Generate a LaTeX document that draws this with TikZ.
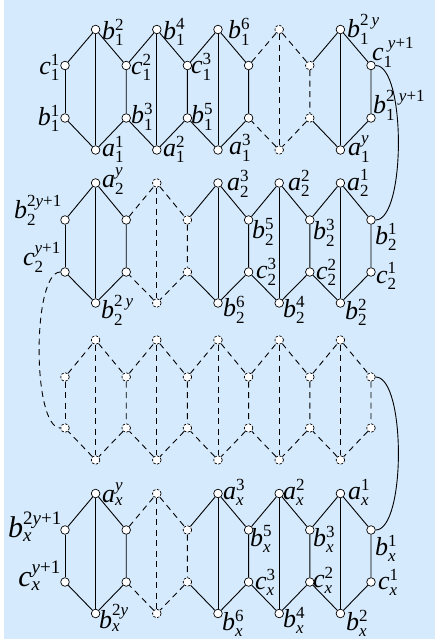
\documentclass[tikz,border=0pt]{standalone}
\usepackage{amsmath}
\usepackage{fontspec}
\setmainfont{Liberation Serif}
\newfontfamily\labfont{Liberation Serif}
\DeclareMathSizes{26}{26}{17}{12}
\DeclareMathSizes{30}{30}{19}{13}
\definecolor{bgblue}{RGB}{213,234,252}
\newcommand\lbl[3]{{\labfont\itshape #1}$_{\text{\labfont #2}}^{\text{\labfont #3}}$}
\newcommand\iy{{\itshape y}}
\newcommand\ix{{\itshape x}}
\tikzset{
  vtx/.style={circle, draw=black, fill=white, line width=0.7pt, inner sep=0pt, minimum size=8.6pt},
  dv/.style={dash pattern=on 2.5pt off 1.5pt},
  se/.style={line width=0.9pt, black},
  de/.style={line width=0.9pt, black, dash pattern=on 6pt off 4.5pt},
  lab/.style={inner sep=0pt, font=\fontsize{26}{26}\selectfont},
  labbig/.style={inner sep=0pt, font=\fontsize{30}{30}\selectfont},
  r1c7/.style=dv, r1c8/.style=dv,
  r2c3/.style=dv, r2c4/.style=dv,
  r4c3/.style=dv, r4c4/.style=dv,
  r3/.style=dv
}
\begin{document}
\begin{tikzpicture}[x=1pt,y=-1pt]
\fill[white] (0,0) rectangle (435,639);
\fill[bgblue] (4,0) rectangle (435,639);
\useasboundingbox (0,0) rectangle (435,639);
% vertices
\foreach \r/\yt/\yu/\yl/\yb in {1/29.5/65.5/118/150, 2/183/220/272/303, 3/340/377/428/460, 4/493.5/530/582/613.5}{
  \foreach \c in {1,3,...,9}{
    \node[vtx, r\r/.try, r\r c\c/.try] (r\r t\c) at ({65+30.6*\c},\yt) {};
    \node[vtx, r\r/.try, r\r c\c/.try] (r\r b\c) at ({65+30.6*\c},\yb) {};
  }
  \foreach \c in {0,2,...,10}{
    \node[vtx, r\r/.try, r\r c\c/.try] (r\r u\c) at ({65+30.6*\c},\yu) {};
    \node[vtx, r\r/.try, r\r c\c/.try] (r\r l\c) at ({65+30.6*\c},\yl) {};
  }
}
% edges
\foreach \r/\ha/\hb/\hc/\hd/\he in {1/se/se/se/de/se, 2/se/de/se/se/se, 3/de/de/de/de/de, 4/se/de/se/se/se}{
  \draw[\ha] (r\r u0) -- (r\r l0);
  \foreach \k/\st in {1/\ha, 2/\hb, 3/\hc, 4/\hd, 5/\he}{
    \pgfmathtruncatemacro\pa{2*\k-2}
    \pgfmathtruncatemacro\pm{2*\k-1}
    \pgfmathtruncatemacro\pc{2*\k}
    \draw[\st] (r\r u\pa) -- (r\r t\pm) -- (r\r u\pc) -- (r\r l\pc) -- (r\r b\pm) -- (r\r l\pa);
    \draw[\st] (r\r t\pm) -- (r\r b\pm);
  }
}
% connecting curves
\draw[se] (r1u10) .. controls +(35,0) and +(35,0) .. (r2u10);
\draw[de] (r2l0) .. controls +(-33,0) and +(-33,0) .. (r3l0);
\draw[se] (r3u10) .. controls +(35,0) and +(35,0) .. (r4u10);
% labels row 1
\node[lab, anchor=west] (L1) at (102,32) {\lbl{b}{1}{2}};
\node[lab, anchor=east] (L2) at (60,67) {\lbl{c}{1}{1}};
\node[lab, anchor=east] (L3) at (60,118) {\lbl{b}{1}{1}};
\node[lab, anchor=west] (L4) at (102,149) {\lbl{a}{1}{1}};
\node[lab, anchor=west] (L5) at (131,67) {\lbl{c}{1}{2}};
\node[lab, anchor=west] (L6) at (131,117) {\lbl{b}{1}{3}};
\node[lab, anchor=west] (L7) at (163,32) {\lbl{b}{1}{4}};
\node[lab, anchor=west] (L8) at (163,149) {\lbl{a}{1}{2}};
\node[lab, anchor=west] (L9) at (191,67) {\lbl{c}{1}{3}};
\node[lab, anchor=west] (L10) at (191,117) {\lbl{b}{1}{5}};
\node[lab, anchor=west] (L11) at (228,32) {\lbl{b}{1}{6}};
\node[lab, anchor=west] (L12) at (229,148) {\lbl{a}{1}{3}};
\node[lab, anchor=west] (L13) at (347,29) {\lbl{b}{1}{2\,\iy}};
\node[lab, anchor=west] (L14) at (372,52) {\lbl{c}{1}{\ \iy+1}};
\node[lab, anchor=west] (L15) at (373,105) {\lbl{b}{1}{2\ \iy+1}};
\node[lab, anchor=west] (L16) at (348,149) {\lbl{a}{1}{\iy}};
% labels row 2
\node[lab, anchor=west] (M1) at (102,181) {\lbl{a}{2}{\iy}};
\node[lab, anchor=east] (M2) at (62,210) {\lbl{b}{2}{2\iy+1}};
\node[lab, anchor=east] (M3) at (61,257) {\lbl{c}{2}{\iy+1}};
\node[lab, anchor=west] (M4) at (101,310) {\lbl{b}{2}{2\,\iy}};
\node[lab, anchor=west] (M5) at (227,184) {\lbl{a}{2}{3}};
\node[lab, anchor=west] (M6) at (252,232) {\lbl{b}{2}{5}};
\node[lab, anchor=west] (M7) at (256,272) {\lbl{c}{2}{3}};
\node[lab, anchor=west] (M8) at (223,310) {\lbl{b}{2}{6}};
\node[lab, anchor=west] (M9) at (288,183) {\lbl{a}{2}{2}};
\node[lab, anchor=west] (M10) at (283,310) {\lbl{b}{2}{4}};
\node[lab, anchor=west] (M11) at (313,233) {\lbl{b}{2}{3}};
\node[lab, anchor=west] (M12) at (316,272) {\lbl{c}{2}{2}};
\node[lab, anchor=west] (M13) at (347,183) {\lbl{a}{2}{1}};
\node[lab, anchor=west] (M14) at (345,312) {\lbl{b}{2}{2}};
\node[lab, anchor=west] (M15) at (375,237) {\lbl{b}{2}{1}};
\node[lab, anchor=west] (M16) at (376,276) {\lbl{c}{2}{1}};
% labels row 4
\node[lab, anchor=west] (N1) at (102,494) {\lbl{a}{\ix}{\iy}};
\node[labbig, anchor=east] (N2) at (62,527) {\lbl{b}{\ix}{2\iy+1}};
\node[labbig, anchor=east] (N3) at (61,576) {\lbl{c}{\ix}{\iy+1}};
\node[lab, anchor=west] (N4) at (99,618) {\lbl{b}{\ix}{2\iy}};
\node[lab, anchor=west] (N5) at (223,492) {\lbl{a}{\ix}{3}};
\node[lab, anchor=west] (N6) at (250,539) {\lbl{b}{\ix}{5}};
\node[lab, anchor=west] (N7) at (255,582) {\lbl{c}{\ix}{3}};
\node[lab, anchor=west] (N8) at (222,623) {\lbl{b}{\ix}{6}};
\node[lab, anchor=west] (N9) at (283,492) {\lbl{a}{\ix}{2}};
\node[lab, anchor=west] (N10) at (283,620) {\lbl{b}{\ix}{4}};
\node[lab, anchor=west] (N11) at (313,539) {\lbl{b}{\ix}{3}};
\node[lab, anchor=west] (N12) at (313,580) {\lbl{c}{\ix}{2}};
\node[lab, anchor=west] (N13) at (348,492) {\lbl{a}{\ix}{1}};
\node[lab, anchor=west] (N14) at (346,623) {\lbl{b}{\ix}{2}};
\node[lab, anchor=west] (N15) at (375,548) {\lbl{b}{\ix}{1}};
\node[lab, anchor=west] (N16) at (378,582) {\lbl{c}{\ix}{1}};
\end{tikzpicture}
\end{document}
